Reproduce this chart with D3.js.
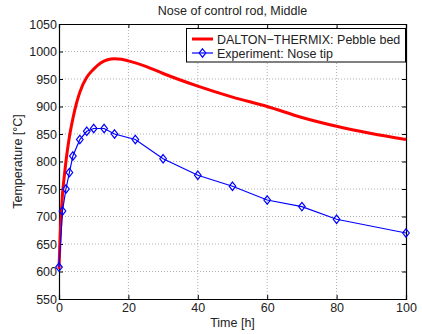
<!DOCTYPE html>
<html lang="en">
<head>
<meta charset="UTF-8">
<title>Nose of control rod, Middle</title>
<script src="https://d3js.org/d3.v7.js"></script>
<style>
    body { margin: 0; background: white; }
    svg text { font-family: "Liberation Sans", Arial, sans-serif; font-size: 12.5px; fill: #222; }
</style>
</head>
<body>
<svg id="chart" width="422" height="334"></svg>
<script>
// simulation (red curve)
var simTime = [0, 0.3, 0.7, 1, 1.5, 2, 3, 4, 5, 6, 8, 10, 12, 14, 16, 18, 20, 25, 30, 40, 50, 60, 70, 80, 90, 100];
var simTemp = [605, 660, 710, 740, 772, 800, 845, 878, 905, 926, 953, 968, 979, 985, 987, 986, 983, 973, 960, 937, 917, 900, 880, 864, 851, 840];

// experiment (blue markers)
var expTime = [0, 1, 2, 3, 4, 6, 8, 10, 13, 16, 22, 30, 40, 50, 60, 70, 80, 100];
var expTemp = [608, 710, 750, 780, 810, 840, 855, 860, 860, 850, 840, 805, 775, 755, 730, 718, 695, 670];

var xTicks = [0, 20, 40, 60, 80, 100];
var yTicks = [550, 600, 650, 700, 750, 800, 850, 900, 950, 1000, 1050];

var svg = d3.select("#chart");
var pLeft = 59, pRight = 406, pTop = 24, pBottom = 299;

var x = d3.scaleLinear().domain([0, 100]).range([pLeft, pRight]);
var y = d3.scaleLinear().domain([550, 1050]).range([pBottom, pTop]);

// grid
var grid = svg.append("g");
grid.selectAll(".gx").data(xTicks.slice(1, -1)).enter().append("line")
    .attr("x1", function(d) { return x(d); }).attr("x2", function(d) { return x(d); })
    .attr("y1", pTop).attr("y2", pBottom)
    .attr("stroke", "#999").attr("stroke-width", 0.8).attr("stroke-dasharray", "1,2");
grid.selectAll(".gy").data(yTicks.slice(1, -1)).enter().append("line")
    .attr("x1", pLeft).attr("x2", pRight)
    .attr("y1", function(d) { return y(d); }).attr("y2", function(d) { return y(d); })
    .attr("stroke", "#999").attr("stroke-width", 0.8).attr("stroke-dasharray", "1,2");

// axes (ticks inside)
svg.append("g").attr("transform", "translate(0," + pBottom + ")")
    .call(d3.axisBottom(x).tickValues(xTicks).tickSize(-4).tickPadding(4).tickFormat(d3.format("d")));
svg.append("g").attr("transform", "translate(" + pLeft + ",0)")
    .call(d3.axisLeft(y).tickValues(yTicks).tickSize(-4).tickPadding(2).tickFormat(d3.format("d")));
svg.append("g").attr("transform", "translate(0," + pTop + ")")
    .call(d3.axisTop(x).tickValues(xTicks).tickSize(-4).tickFormat(""));
svg.append("g").attr("transform", "translate(" + pRight + ",0)")
    .call(d3.axisRight(y).tickValues(yTicks).tickSize(-4).tickFormat(""));
svg.selectAll(".domain").attr("stroke", "#000").attr("stroke-width", 1.2);
svg.selectAll(".tick line").attr("stroke", "#000");
svg.selectAll(".tick text").style("font-size", "12.5px").attr("fill", "#222");

// red simulation line
var simData = simTime.map(function(t, i) { return [t, simTemp[i]]; });
svg.append("path").datum(simData)
    .attr("fill", "none").attr("stroke", "#ff0000").attr("stroke-width", 3)
    .attr("d", d3.line().x(function(d) { return x(d[0]); }).y(function(d) { return y(d[1]); }).curve(d3.curveMonotoneX));

// blue experiment line
var expData = expTime.map(function(t, i) { return [t, expTemp[i]]; });
svg.append("path").datum(expData)
    .attr("fill", "none").attr("stroke", "#0000ff").attr("stroke-width", 1.2)
    .attr("d", d3.line().x(function(d) { return x(d[0]); }).y(function(d) { return y(d[1]); }));

function diamond(g, cx, cy) {
    g.append("path")
        .attr("d", "M" + cx + "," + (cy - 4.2) + "L" + (cx + 3.3) + "," + cy + "L" + cx + "," + (cy + 4.2) + "L" + (cx - 3.3) + "," + cy + "Z")
        .attr("fill", "none").attr("stroke", "#0000ff").attr("stroke-width", 1.2);
}
var markers = svg.append("g");
expData.forEach(function(d) { diamond(markers, x(d[0]), y(d[1])); });

// title and labels
svg.append("text").attr("x", (pLeft + pRight) / 2).attr("y", 15).attr("text-anchor", "middle")
    .text("Nose of control rod, Middle");
svg.append("text").attr("x", (pLeft + pRight) / 2).attr("y", 327).attr("text-anchor", "middle")
    .text("Time [h]");
svg.append("text").attr("transform", "translate(22," + ((pTop + pBottom) / 2) + ") rotate(-90)")
    .attr("text-anchor", "middle").text("Temperature [°C]");

// legend
var lg = svg.append("g");
lg.append("rect").attr("x", 186.5).attr("y", 28.5).attr("width", 219).attr("height", 33.5)
    .attr("fill", "white").attr("stroke", "#000").attr("stroke-width", 1);
lg.append("line").attr("x1", 192).attr("x2", 213).attr("y1", 39).attr("y2", 39)
    .attr("stroke", "#ff0000").attr("stroke-width", 3);
lg.append("text").attr("x", 217).attr("y", 43.5).text("DALTON\u2212THERMIX: Pebble bed");
lg.append("line").attr("x1", 192).attr("x2", 213).attr("y1", 53).attr("y2", 53)
    .attr("stroke", "#0000ff").attr("stroke-width", 1.2);
diamond(lg, 202.5, 53);
lg.append("text").attr("x", 217).attr("y", 57.5).text("Experiment: Nose tip");
</script>
</body>
</html>
